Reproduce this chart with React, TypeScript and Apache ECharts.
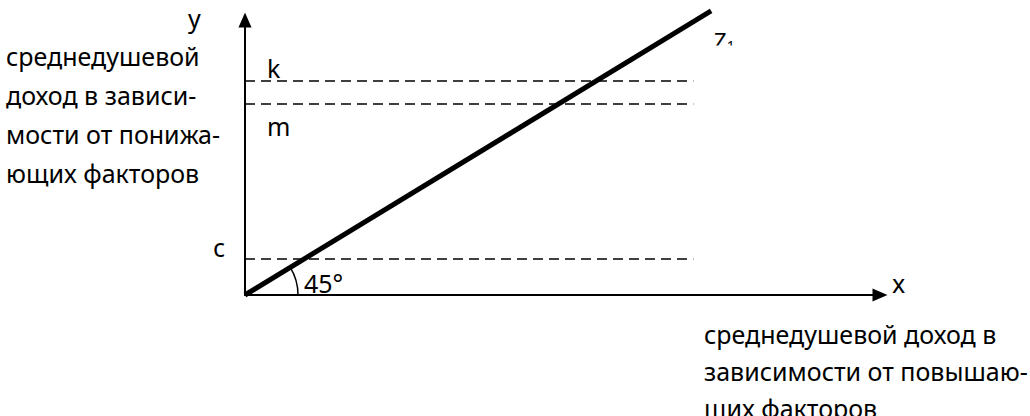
import React, { useEffect, useRef } from "react";
import * as echarts from "echarts";

// Schematic data (axis units 0..10)
const xRange = [0, 10];
const yRange = [0, 10];
const lineZ1Points = [
  [0, 0],
  [7.34, 10.33],
];
const levelNames = ["k", "m", "c"];
const levelValues = [7.78, 6.95, 1.31];
const levelEndX = 7.06;
const lineName = "Z";
const lineSub = "1";
const angleLabel = "45°";
const axisXName = "x";
const axisYName = "y";
const yTitleLines = ["среднедушевой", "доход в зависи-", "мости от понижа-", "ющих факторов"];
const xTitleLines = ["среднедушевой доход в", "зависимости от повышаю-", "щих факторов"];

const FONT = "'Noto Sans', 'Open Sans', sans-serif";
const FS = 25;

export default function App() {
  const ref = useRef<HTMLDivElement>(null);
  useEffect(() => {
    if (!ref.current) return;
    const chart = echarts.init(ref.current, undefined, { renderer: "svg" });
    const axisCommon = {
      type: "value" as const,
      axisLine: {
        show: true,
        symbol: ["none", "triangle"],
        symbolSize: [13, 15],
        lineStyle: { color: "#000", width: 2 },
      },
      axisTick: { show: false },
      axisLabel: { show: false },
      splitLine: { show: false },
    };
    const levelSeries = levelNames.map((n, i) => ({
      name: n,
      type: "line" as const,
      data: [
        [0, levelValues[i]],
        [levelEndX, levelValues[i]],
      ],
      symbol: "none",
      lineStyle: { color: "#000", width: 1.5, type: [10, 6] as any },
      z: 2,
      silent: true,
    }));
    chart.setOption({
      animation: false,
      backgroundColor: "#fff",
      grid: { left: 245, right: 150, top: 20, bottom: 121 },
      xAxis: { ...axisCommon, min: xRange[0], max: xRange[1] },
      yAxis: { ...axisCommon, min: yRange[0], max: yRange[1] },
      series: [
        ...levelSeries,
        {
          name: lineName + lineSub,
          type: "line",
          data: lineZ1Points,
          symbol: "none",
          clip: false,
          lineStyle: { color: "#000", width: 5 },
          z: 3,
          silent: true,
        },
      ],
    });

    const o = chart.convertToPixel({ gridIndex: 0 }, [0, 0]) as number[];
    const e = chart.convertToPixel({ gridIndex: 0 }, lineZ1Points[1]) as number[];
    const ang = Math.atan2(o[1] - e[1], e[0] - o[0]);
    const txt = (text: string, x: number, y: number, extra: any = {}) => ({
      type: "text",
      x,
      y,
      silent: true,
      style: {
        text,
        fill: "#000",
        fontFamily: FONT,
        fontSize: FS,
        align: "left",
        verticalAlign: "middle",
        ...extra,
      },
    });
    chart.setOption({
      graphic: [
        {
          type: "arc",
          silent: true,
          shape: { cx: o[0], cy: o[1], r: 53, startAngle: -ang, endAngle: 0 },
          style: { stroke: "#000", lineWidth: 1.5, fill: "none" },
        },
        txt(axisYName, 188, 18),
        txt(axisXName, 892, 283),
        txt(levelNames[0], 267, 68),
        txt(levelNames[1], 267, 126),
        txt(levelNames[2], 213, 247),
        txt(angleLabel, 304, 283),
        txt(yTitleLines.join("\n"), 6, 36, { verticalAlign: "top", lineHeight: 39 }),
        txt(xTitleLines.join("\n"), 704, 315, { verticalAlign: "top", lineHeight: 37 }),
        {
          type: "text",
          x: e[0] + 3,
          y: 40,
          silent: true,
          style: {
            text: `{z|${lineName}}{s|${lineSub}}`,
            fill: "#000",
            fontFamily: FONT,
            verticalAlign: "middle",
            rich: {
              z: { fontSize: 22, fontFamily: FONT, fill: "#000" },
              s: { fontSize: 14, fontFamily: FONT, fill: "#000", padding: [10, 0, 0, 0] },
            },
          },
        },
        {
          type: "rect",
          silent: true,
          z: 100,
          shape: { x: e[0] - 2, y: 45.5, width: 40, height: 14 },
          style: { fill: "#fff" },
        },
      ],
    });
    return () => chart.dispose();
  }, []);
  return (
    <div
      ref={ref}
      style={{ position: "fixed", left: 0, top: 0, width: 1030, height: 416, background: "#fff" }}
    />
  );
}
